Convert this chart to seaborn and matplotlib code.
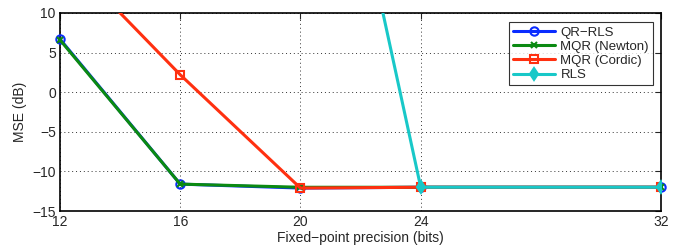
import matplotlib
matplotlib.use("Agg")
import matplotlib.pyplot as plt
import numpy as np
import pandas as pd
import seaborn as sns

# precision (bits) and MSE (dB)
bits = [12, 16, 20, 24, 32]
qr_rls = [6.7, -11.6, -12.1, -12.0, -12.0]
mqr_newton = [6.6, -11.6, -12.0, -12.0, -12.0]
mqr_cordic = [17.8, 2.2, -12.1, -12.0, -12.0]
rls = [120.0, 90.0, 58.0, -12.0, -12.0]

series_names = ["QR\u2212RLS", "MQR (Newton)", "MQR (Cordic)", "RLS"]
series_values = [qr_rls, mqr_newton, mqr_cordic, rls]
colors = ["#0a2cff", "#0b8a12", "#ff3010", "#18c8c8"]
markers = ["o", "x", "s", "d"]
marker_sizes = [6, 4, 6, 6]
fills = ["none", None, "none", None]

sns.set_style("white")
plt.rcParams["font.family"] = ["Liberation Sans", "DejaVu Sans"]

df = pd.DataFrame({
    "bits": bits * len(series_names),
    "mse": np.concatenate(series_values),
    "method": np.repeat(series_names, len(bits)),
})

fig = plt.figure(figsize=(6.81, 2.48), dpi=100)
ax = fig.add_axes([0.088, 0.149, 0.883, 0.799])

for name, color, marker, ms, fill in zip(series_names, colors, markers, marker_sizes, fills):
    sub = df[df["method"] == name]
    kw = dict(markeredgecolor=color, markeredgewidth=1.5, markersize=ms)
    if fill == "none":
        kw["markerfacecolor"] = "none"
    sns.lineplot(data=sub, x="bits", y="mse", color=color, marker=marker,
                 linewidth=2.2, label=name, ax=ax, zorder=3, **kw)

ax.set_xlim(12, 32)
ax.set_ylim(-15, 10)
ax.set_xticks(bits)
ax.set_yticks([-15, -10, -5, 0, 5, 10])
ax.set_yticklabels(["\u221215", "\u221210", "\u22125", "0", "5", "10"])
ax.set_xlabel("Fixed\u2212point precision (bits)", fontsize=10, labelpad=1)
ax.set_ylabel("MSE (dB)", fontsize=10, labelpad=4)
ax.tick_params(direction="in", labelsize=10, length=4, width=0.8,
               top=True, right=True, pad=3)
ax.grid(True, linestyle=(0, (1, 3)), color="#333333", linewidth=0.7)
for s in ax.spines.values():
    s.set_color("black")
    s.set_linewidth(1.2)

# blue/green stay inside the box: let their edge markers show in full;
# red and cyan leave the top, so they stay clipped
for line, clip in zip(ax.lines, [False, False, True, True]):
    line.set_clip_on(clip)

leg = ax.legend(loc="upper right", fontsize=9.5, frameon=True, fancybox=False,
                borderpad=0.3, labelspacing=0.15, handlelength=3.2,
                handletextpad=0.4, bbox_to_anchor=(0.997, 0.985))
leg.get_frame().set_edgecolor("black")
leg.get_frame().set_linewidth(0.8)

fig.savefig("out.png", dpi=100)
